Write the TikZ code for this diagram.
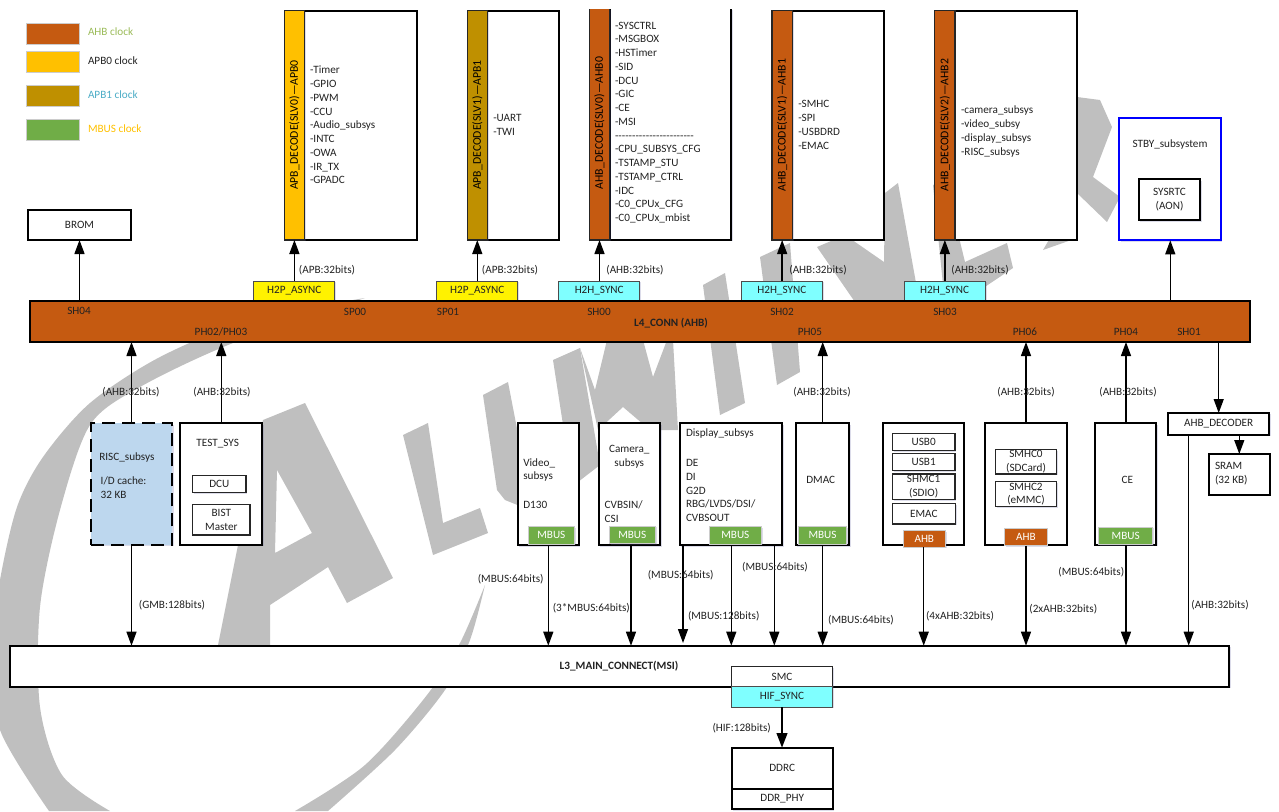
\documentclass[tikz,border=0pt]{standalone}
\usepackage{fontspec}
\setmainfont{Carlito}
\usetikzlibrary{arrows.meta,shadows,calc}
\definecolor{ahbc}{HTML}{C55A11}
\definecolor{apbz}{HTML}{FFC000}
\definecolor{apbo}{HTML}{BF9000}
\definecolor{mbusc}{HTML}{70AD47}
\definecolor{hcyan}{HTML}{7FFFFF}
\definecolor{riscb}{HTML}{BDD7EE}
\definecolor{wm}{HTML}{BFBFBF}
\definecolor{txt}{HTML}{222222}
\definecolor{lgg}{HTML}{9BBB59}
\definecolor{lgt}{HTML}{4BACC6}
\tikzset{
  softshadow/.style={drop shadow={shadow xshift=1pt,shadow yshift=-1pt,opacity=.22,fill=blue!25!gray}},
  base/.style={inner sep=0pt,outer sep=0pt,anchor=north west,text=txt,align=center,font=\fontsize{8.4}{10.3}\selectfont},
  wbox/.style={base,draw=black,line width=1.4pt,fill=white,softshadow},
  thin box/.style={base,draw=black!85,line width=.8pt,fill=white,softshadow},
  bluebox/.style={base,draw=blue,line width=1.4pt,fill=white,softshadow},
  dashbox/.style={base,draw=black,line width=1.5pt,fill=riscb,dash pattern=on 10pt off 5pt,softshadow},
  ahbstrip/.style={base,draw=black!85,line width=1pt,fill=ahbc,softshadow},
  apb0strip/.style={base,draw=black!85,line width=1pt,fill=apbz,softshadow},
  apb1strip/.style={base,draw=black!85,line width=1pt,fill=apbo,softshadow},
  bar/.style={base,draw=black,line width=1.4pt,fill=ahbc,softshadow},
  yelbox/.style={base,draw=black!70,line width=.7pt,fill=yellow,softshadow},
  cyanbox/.style={base,draw=black!70,line width=.7pt,fill=hcyan,softshadow},
  mbustag/.style={base,draw=black!20,line width=.7pt,fill=mbusc,text=white,softshadow},
  ahbtag/.style={base,draw=black!20,line width=.7pt,fill=ahbc,text=white,softshadow},
  swatch/.style={base,draw=black!20,line width=.7pt,softshadow},
  lbl/.style={inner sep=0pt,outer sep=0pt,yshift=-0.5pt,text=txt,font=\fontsize{8.4}{10.3}\selectfont},
  listtxt/.style={inner sep=0pt,outer sep=0pt,anchor=west,text=txt,align=left,font=\fontsize{8.4}{10.3}\selectfont},
  rot/.style={inner sep=0pt,outer sep=0pt,rotate=90,text=black,font=\fontsize{8.8}{10}\selectfont},
  arr/.style={line width=1pt,draw=black,-{Triangle[length=10.5pt,width=7.5pt]}},
  fatarr/.style={line width=1.6pt,draw=black,-{Triangle[length=11pt,width=8pt]}},
}
\newcommand\mybox[7]{\node[#2,minimum width={(#5-#3)*0.75pt},minimum height={(#6-#4)*0.75pt}] (#1) at (#3,#4) {#7};}
\newcommand\lab[4]{\node[lbl] (#1) at (#2,#3) {#4};}
\begin{document}
\begin{tikzpicture}[x=0.75pt,y=-0.75pt]
\useasboundingbox (0,0) rectangle (1279,811);
% ---------- watermark
\begin{scope}
\clip (0,0) rectangle (1279,811);
\fill[wm] plot[smooth] coordinates {(365,298) (250,320) (160,357) (90,403) (43,457) (17,507) (0,580) (-8,650) (0,730) (49,811)}
  -- plot[smooth] coordinates {(110,811) (62,775) (40,707) (40,607) (60,510) (90,425) (140,387) (233,343) (365,298)} -- cycle;
\fill[wm] plot[smooth] coordinates {(485,585) (460,643) (427,695) (365,765) (295,811)}
  -- plot[smooth] coordinates {(328,811) (395,750) (445,690) (470,640) (485,585)} -- cycle;
% A
\fill[wm,even odd rule] (263,420) -- (305,403) -- (393,578) -- (347,603) -- (328,567) -- (270,605) -- (270,650) -- (217,650) -- cycle
  (277,470) -- (312,533) -- (275,553) -- cycle;
% L
\fill[wm] (403,435) -- (428,423) -- (443,523) -- (480,508) -- (488,533) -- (433,555) -- cycle;
% U
\fill[wm] (483,395) -- (508,382) -- (525,470) -- (535,488) -- (570,470) -- (553,360) -- (580,348) -- (600,465) -- (578,482) -- (530,510) -- (505,500) -- (497,490) -- cycle;
% W
\fill[wm] (580,348) -- (595,390) -- (607,340) -- (643,340) -- (653,377) -- (667,340) -- (673,340) -- (678,430) -- (650,430) -- (623,407) -- (598,430) -- cycle;
% I stems
\fill[wm] (703,285) -- (725,273) -- (745,403) -- (720,415) -- cycle;
\fill[wm] (760,257) -- (790,243) -- (800,372) -- (777,385) -- cycle;
% N
\fill[wm] (817,247) -- (845,235) -- (884,262) -- (885,193) -- (898,183) -- (920,305) -- (857,305) -- cycle;
% E
\fill[wm] (933,185) -- (945,180) -- (965,262) -- (1007,243) -- (1013,268) -- (958,305) -- (945,305) -- cycle;
\fill[wm] (1043,250) -- (1077,238) -- (1050,238) -- cycle;
% R
\fill[wm] (1060,95) -- (1077,97) -- (1100,100) -- (1112,127) -- (1093,177) -- (1120,197) -- (1107,222) -- (1077,193) -- (1060,185) -- cycle;
\end{scope}
% ---------- legend
\mybox{swA}{swatch,fill=ahbc}{26}{23}{79}{44}{}
\mybox{swB}{swatch,fill=apbz}{26}{51}{79}{72}{}
\mybox{swC}{swatch,fill=apbo}{26}{85}{79}{106}{}
\mybox{swD}{swatch,fill=mbusc}{26}{119}{79}{140}{}
\node[lbl,anchor=west,text=lgg] (lgA) at (88,31) {AHB clock};
\node[lbl,anchor=west] (lgB) at (88,60) {APB0 clock};
\node[lbl,anchor=west,text=lgt] (lgC) at (88,94) {APB1 clock};
\node[lbl,anchor=west,text=apbz] (lgD) at (88,128) {MBUS clock};
% ---------- top boxes
\mybox{brom}{wbox}{28.3}{210}{130.7}{240}{BROM}
\mybox{apbzw}{wbox}{304.5}{10.7}{416.7}{240}{}
\mybox{apbzs}{apb0strip}{284.3}{10.7}{304.5}{240}{}
\mybox{apbow}{wbox}{487.3}{10.7}{558.7}{240}{}
\mybox{apbos}{apb1strip}{467.3}{10.7}{487.3}{240}{}
\node[base,fill=white,softshadow,minimum width={(731.3-609.7)*0.75pt},minimum height={(240-9)*0.75pt}] (ahbzw) at (609.7,9) {};
\draw[line width=1.4pt] (ahbzw.north east) -- (ahbzw.south east) -- (ahbzw.south west) -- (ahbzw.north west);
\node[base,fill=ahbc,softshadow,minimum width={(609.7-589.3)*0.75pt},minimum height={(240-9)*0.75pt}] (ahbzs) at (589.3,9) {};
\draw[line width=1pt,draw=black!85] (ahbzs.north west) -- (ahbzs.south west) -- (ahbzs.south east) -- (ahbzs.north east);
\mybox{ahbow}{wbox}{792.3}{10.7}{884}{240}{}
\mybox{ahbos}{ahbstrip}{772}{10.7}{792.3}{240}{}
\mybox{ahbtw}{wbox}{955}{10.7}{1077}{240}{}
\mybox{ahbts}{ahbstrip}{934.7}{10.7}{955}{240}{}
\mybox{stby}{bluebox}{1119.3}{118.3}{1220.7}{240.3}{}
\mybox{sysrtc}{wbox}{1138.7}{179.3}{1200.3}{220.3}{SYSRTC\\(AON)}
\node[rot] (rA) at (294.4,125) {APB\_DECODE(SLV0)—APB0};
\node[rot] (rB) at (477.3,125) {APB\_DECODE(SLV1)—APB1};
\node[rot] (rC) at (599.5,123) {AHB\_DECODE(SLV0)—AHB0};
\node[rot] (rD) at (782.2,125) {AHB\_DECODE(SLV1)—AHB1};
\node[rot] (rE) at (944.8,125) {AHB\_DECODE(SLV2)—AHB2};
\node[listtxt] (lsA) at (310,125) {-Timer\\-GPIO\\-PWM\\-CCU\\-Audio\_subsys\\-INTC\\-OWA\\-IR\_TX\\-GPADC};
\node[listtxt] (lsB) at (493.3,125) {-UART\\-TWI};
\node[listtxt] (lsC) at (615,122.5) {-SYSCTRL\\-MSGBOX\\-HSTimer\\-SID\\-DCU\\-GIC\\-CE\\-MSI\\-{}-{}-{}-{}-{}-{}-{}-{}-{}-{}-{}-{}-{}-{}-{}-{}-{}-{}-{}-{}-{}-{}-{}\\-CPU\_SUBSYS\_CFG\\-TSTAMP\_STU\\-TSTAMP\_CTRL\\-IDC\\-C0\_CPUx\_CFG\\-C0\_CPUx\_mbist};
\node[listtxt] (lsD) at (798.3,125) {-SMHC\\-SPI\\-USBDRD\\-EMAC};
\node[listtxt] (lsE) at (961,131.5) {-camera\_subsys\\-video\_subsy\\-display\_subsys\\-RISC\_subsys};
\lab{stbyt}{1170}{144}{STBY\_subsystem}
% ---------- L4 bar
\mybox{ltop}{yelbox}{253.7}{281}{334.7}{301}{H2P\_ASYNC}
\mybox{ltopb}{yelbox}{436.7}{281}{517.7}{301}{H2P\_ASYNC}
\mybox{hza}{cyanbox}{558.7}{281}{639.7}{301}{H2H\_SYNC}
\mybox{hzb}{cyanbox}{741.3}{281}{822.3}{301}{H2H\_SYNC}
\mybox{hzc}{cyanbox}{904}{281}{985.3}{301}{H2H\_SYNC}
\mybox{lfour}{bar}{30}{301}{1249.7}{342}{}
\lab{bSHa}{79}{310}{SH04}
\lab{bSPa}{355}{311}{SP00}
\lab{bPH}{221}{331}{PH02/PH03}
\lab{bSPb}{448}{311}{SP01}
\lab{bSHb}{599}{311}{SH00}
\node[lbl,font=\fontsize{8.4}{10}\selectfont\bfseries] (bL) at (671,323) {L4\_CONN (AHB)};
\lab{bSHc}{782}{311}{SH02}
\lab{bPHb}{810}{331}{PH05}
\lab{bSHd}{945}{311}{SH03}
\lab{bPHc}{1025}{331}{PH06}
\lab{bPHd}{1126}{331}{PH04}
\lab{bSHe}{1189}{331}{SH01}
% ---------- L3
\mybox{lthree}{wbox}{10}{645.7}{1229.3}{686.7}{}
\node[lbl,font=\fontsize{8.4}{10}\selectfont\bfseries] (bLt) at (619,666) {L3\_MAIN\_CONNECT(MSI)};
\mybox{smc}{thin box}{731.7}{666.7}{832.3}{686.7}{SMC}
\mybox{hif}{cyanbox}{731.7}{686.7}{832.3}{707}{HIF\_SYNC}
\mybox{ddrc}{wbox}{731.7}{747.7}{832.7}{788.7}{DDRC}
\mybox{ddrphy}{wbox}{731.7}{788.7}{832.7}{809.3}{DDR\_PHY}
% ---------- masters
\mybox{risc}{dashbox}{91}{423.3}{172.3}{545}{}
\node[lbl,anchor=west] (riscA) at (99.3,457) {RISC\_subsys};
\node[listtxt] (riscB) at (100.7,488) {I/D cache:\\32 KB};
\mybox{test}{wbox}{180.3}{423.3}{262.3}{545}{}
\lab{testT}{217.7}{443}{TEST\_SYS}
\mybox{dcu}{thin box}{192.7}{475.3}{246}{492.7}{DCU}
\mybox{bist}{thin box}{192.7}{504.3}{250}{535}{BIST\\Master}
\mybox{video}{wbox}{517.7}{423.3}{579}{545.3}{}
\node[listtxt] (vidA) at (523.3,470) {Video\_\\subsys};
\node[listtxt] (vidB) at (523.3,505) {D130};
\mybox{vidm}{mbustag}{528}{526.7}{574.7}{544}{MBUS}
\mybox{camera}{wbox}{599}{423.3}{660.3}{545.3}{}
\node[lbl,align=center] (camA) at (629.3,456) {Camera\_\\subsys};
\node[listtxt] (camB) at (604.7,511.5) {CVBSIN/\\CSI};
\mybox{camm}{mbustag}{609.3}{526}{655.3}{543.3}{MBUS}
\mybox{display}{wbox}{680}{423.3}{782.3}{545.3}{}
\node[lbl,anchor=west] (dispA) at (686,433) {Display\_subsys};
\node[listtxt] (dispB) at (686,490.5) {DE\\DI\\G2D\\RBG/LVDS/DSI/\\CVBSOUT};
\mybox{dispm}{mbustag}{709}{526.7}{761.7}{544}{MBUS}
\mybox{dmac}{wbox}{796}{423.3}{849.3}{545.3}{}
\lab{dmacT}{820.7}{479}{DMAC}
\mybox{dmacm}{mbustag}{798.3}{526.7}{846.7}{544}{MBUS}
\mybox{usbg}{wbox}{883.3}{423.3}{964}{545}{}
\mybox{usbz}{thin box}{892.3}{433.3}{955}{450.3}{USB0}
\mybox{usbo}{thin box}{892.3}{453.3}{955}{470.7}{USB1}
\mybox{shmc}{thin box}{892.3}{474}{955}{499.3}{SHMC1\\(SDIO)}
\mybox{emac}{thin box}{892.3}{503.7}{955.3}{524}{EMAC}
\mybox{usbt}{ahbtag}{903.3}{530.3}{945.3}{547}{AHB}
\mybox{smhg}{wbox}{985}{423.3}{1067}{545}{}
\mybox{smhz}{thin box}{995.3}{449.7}{1056.7}{474}{SMHC0\\(SDCard)}
\mybox{smht}{thin box}{995.3}{481.7}{1056.7}{506.7}{SMHC2\\(eMMC)}
\mybox{smhtag}{ahbtag}{1004.7}{528.7}{1047}{545.7}{AHB}
\mybox{ce}{wbox}{1095}{423.3}{1156.3}{545}{}
\lab{ceT}{1127.3}{479}{CE}
\mybox{cem}{mbustag}{1098.7}{527}{1152.7}{544.3}{MBUS}
\mybox{decoder}{wbox}{1168}{413}{1269.3}{434.7}{AHB\_DECODER}
\mybox{sram}{wbox}{1208.7}{454}{1270}{494.7}{}
\node[listtxt] (sramT) at (1215,474) {SRAM\\(32 KB)};
% ---------- x positions of connectors
\coordinate (xriscv) at (131.5,0);
\coordinate (xtest) at (221.3,0);
\coordinate (xbrom) at (79.5,0);
\coordinate (xstby) at (1170.3,0);
\coordinate (xvid) at (548.3,0);
\coordinate (xcam) at (631,0);
\coordinate (xda) at (683,0);
\coordinate (xdb) at (731.3,0);
\coordinate (xdc) at (774.3,0);
\coordinate (xdm) at (822.7,0);
\coordinate (xusb) at (923.7,0);
\coordinate (xsm) at (1026,0);
\coordinate (xce) at (1126,0);
\coordinate (xso) at (1218.7,0);
\coordinate (xdl) at (1188.7,0);
\coordinate (xsr) at (1239.3,0);
\coordinate (xhif) at (782,0);
\coordinate (daend) at (683,643);
% ---------- connectors up
\draw[arr] (lfour.north -| xbrom) -- (brom.south -| xbrom);
\draw[arr] (ltop.north -| apbzs) -- (apbzs.south);
\draw[arr] (ltopb.north -| apbos) -- (apbos.south);
\draw[arr] (hza.north -| ahbzs) -- (ahbzs.south);
\draw[arr] (hzb.north -| ahbos) -- (ahbos.south);
\draw[arr] (hzc.north -| ahbts) -- (ahbts.south);
\draw[arr] (lfour.north -| xstby) -- (stby.south -| xstby);
\draw[arr] (risc.north -| xriscv) -- (lfour.south -| xriscv);
\draw[arr] (test.north -| xtest) -- (lfour.south -| xtest);
\draw[arr] (dmac.north -| xdm) -- (lfour.south -| xdm);
\draw[arr] (smhg.north -| xsm) -- (lfour.south -| xsm);
\draw[arr] (ce.north -| xce) -- (lfour.south -| xce);
% ---------- connectors down
\draw[arr] (lfour.south -| xso) -- (decoder.north -| xso);
\draw[arr] (decoder.south -| xsr) -- (sram.north -| xsr);
\draw[arr] (decoder.south -| xdl) -- (lthree.north -| xdl);
\draw[arr] (risc.south -| xriscv) -- (lthree.north -| xriscv);
\draw[arr] (video.south -| xvid) -- (lthree.north -| xvid);
\draw[arr] (camera.south -| xcam) -- (lthree.north -| xcam);
\draw[arr] (display.south -| xda) -- (daend);
\draw[arr] (display.south -| xdb) -- (lthree.north -| xdb);
\draw[arr] (display.south -| xdc) -- (lthree.north -| xdc);
\draw[arr] (dmac.south -| xdm) -- (lthree.north -| xdm);
\draw[arr] (usbt.south -| xusb) -- (lthree.north -| xusb);
\draw[arr] (smhtag.south -| xsm) -- (lthree.north -| xsm);
\draw[arr] (ce.south -| xce) -- (lthree.north -| xce);
\draw[fatarr] (hif.south -| xhif) -- (ddrc.north -| xhif);
% ---------- connector labels
\lab{cA}{327}{270}{(APB:32bits)}
\lab{cB}{510}{270}{(APB:32bits)}
\lab{cC}{635}{270}{(AHB:32bits)}
\lab{cD}{818}{270}{(AHB:32bits)}
\lab{cE}{980}{270}{(AHB:32bits)}
\lab{cF}{131}{392}{(AHB:32bits)}
\lab{cG}{222}{392}{(AHB:32bits)}
\lab{cH}{822}{392}{(AHB:32bits)}
\lab{cI}{1026}{392}{(AHB:32bits)}
\lab{cJ}{1128}{392}{(AHB:32bits)}
\lab{cK}{172}{605}{(GMB:128bits)}
\lab{cL}{510.7}{579}{(MBUS:64bits)}
\lab{cM}{591.3}{608}{(3*MBUS:64bits)}
\lab{cN}{680.7}{575}{(MBUS:64bits)}
\lab{cO}{723.7}{616}{(MBUS:128bits)}
\lab{cP}{775}{567}{(MBUS:64bits)}
\lab{cQ}{861}{620}{(MBUS:64bits)}
\lab{cR}{960}{616}{(4xAHB:32bits)}
\lab{cS}{1063.3}{609}{(2xAHB:32bits)}
\lab{cT}{1091.3}{572}{(MBUS:64bits)}
\lab{cU}{1220}{605}{(AHB:32bits)}
\lab{cV}{741.7}{728}{(HIF:128bits)}
\end{tikzpicture}
\end{document}
